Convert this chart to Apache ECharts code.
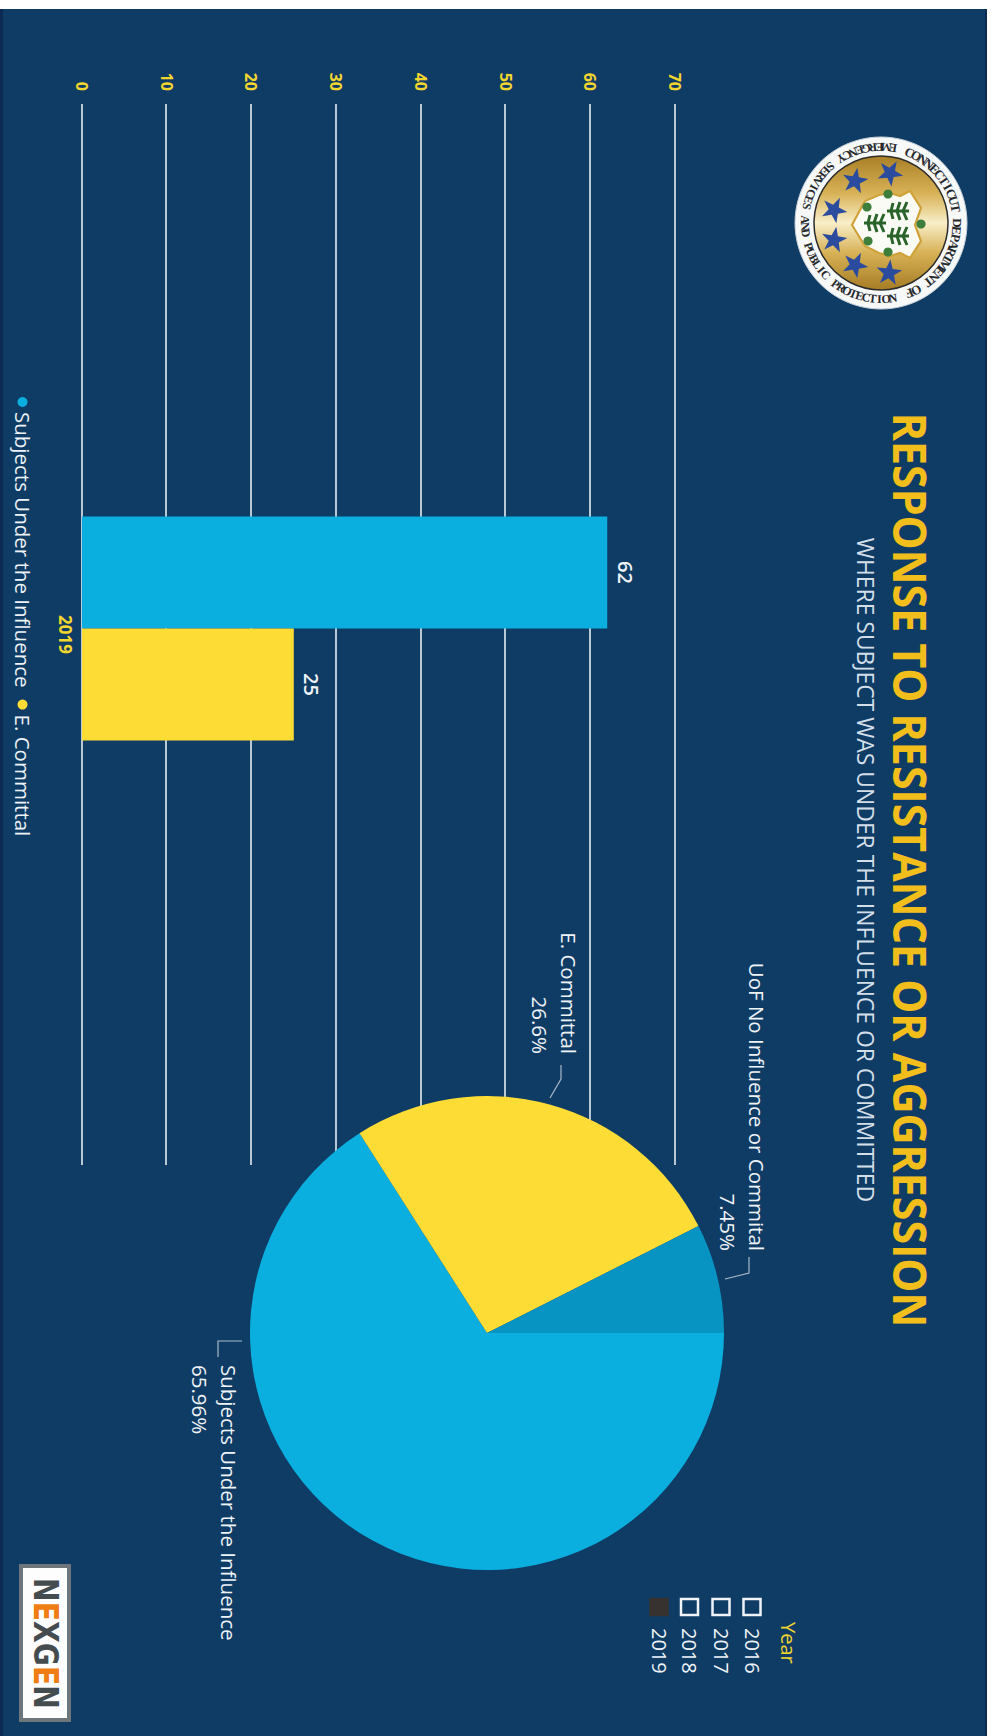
<!DOCTYPE html>
<html>
<head>
<meta charset="utf-8">
<title>Response to Resistance or Aggression</title>
<style>
  html, body { margin: 0; padding: 0; background: #fff; width: 994px; height: 1736px; overflow: hidden; }
  #page { position: relative; width: 994px; height: 1736px; overflow: hidden; background: #fff; }
  #panel { position: absolute; left: 0; top: 9px; width: 985px; height: 1727px; box-sizing: content-box;
           background: #0f3c65; border-right: 2px solid #0c2b52; }
  #edge { position: absolute; left: 0; top: 9px; width: 3px; height: 1727px; background: #0c2b52; }
  /* The report page is laid out sideways: the chart is drawn landscape and turned a quarter clockwise. */
  #chart { position: absolute; left: 994px; top: 0; width: 1736px; height: 994px;
           transform-origin: 0 0; transform: rotate(90deg); }
</style>
<script src="https://cdn.jsdelivr.net/npm/echarts@6/dist/echarts.min.js"></script>
</head>
<body>
<div id="page">
  <div id="panel"></div>
  <div id="edge"></div>
  <div id="chart"></div>
</div>
<script>
// Data
const years = ['2016', '2017', '2018', '2019'];
const selectedYear = '2019';
const barCategories = ['2019'];
const subjectsUnderInfluence = [62];
const emergencyCommittal = [25];
const valueTicksMax = 70;
const valueTickStep = 10;
const pieNames = ['Subjects Under the Influence', 'E. Committal', 'UoF No Influence or Commital'];
const pieCounts = [62, 25, 7];
const titleText = 'RESPONSE TO RESISTANCE OR AGGRESSION';
const subtitleText = 'WHERE SUBJECT WAS UNDER THE INFLUENCE OR COMMITTED';
const sealTop = 'CONNECTICUT DEPARTMENT OF';
const sealBottom = 'EMERGENCY SERVICES AND PUBLIC PROTECTION';

// Palette and type
const BLUE = '#0bafdf', YELLOW = '#fddc36', DEEP_BLUE = '#0894c3';
const GOLD = '#f2be1c', TICK_GOLD = '#f3d62e', WHITE = '#eef3f7';
const FONT = '"Open Sans", "Noto Sans", sans-serif';

const chart = echarts.init(document.getElementById('chart'), null, { renderer: 'svg', width: 1736, height: 994 });

const pieTotal = pieCounts.reduce((a, b) => a + b, 0);

// Leader lines and label anchors for the three pie slices
const pieLabelPlacement = {
  'Subjects Under the Influence': { x: 1365, y: 780, align: 'left',  line: [[1357, 776], [1341, 776], [1341, 752]] },
  'E. Committal':                 { x: 1054, y: 440, align: 'right', line: [[1065, 433], [1079, 433], [1098, 444]] },
  'UoF No Influence or Commital': { x: 1251, y: 252, align: 'right', line: [[1257, 245], [1273, 245], [1279, 269]] }
};

// Department seal: ring lettering set glyph by glyph along two arcs
function arcText(text, radius, fromDeg, toDeg, fontSize, outward) {
  const chars = text.split('');
  return chars.map((c, i) => {
    const deg = fromDeg + (toDeg - fromDeg) * i / (chars.length - 1);
    const t = deg * Math.PI / 180;
    const rot = outward ? -(deg + 90) : (90 - deg);
    return {
      type: 'text', x: radius * Math.cos(t), y: radius * Math.sin(t),
      rotation: rot * Math.PI / 180,
      style: { text: c, fill: '#26282c', align: 'center', verticalAlign: 'middle',
               font: 'bold ' + fontSize + 'px "Liberation Serif", serif' }
    };
  });
}
function starPoints(outer, inner, tilt) {
  const pts = [];
  for (let i = 0; i < 10; i++) {
    const r = i % 2 ? inner : outer;
    const a = (i * 36 - 90 + tilt) * Math.PI / 180;
    pts.push([r * Math.cos(a), r * Math.sin(a)]);
  }
  return pts;
}
function vine(x, y) {
  const seg = (a, b) => ({ type: 'polyline', x, y, shape: { points: [a, b] },
    style: { stroke: '#2a642b', lineWidth: 3, fill: null } });
  return [
    seg([0, -11], [0, 11]),
    seg([0, -5], [-9, -9]), seg([0, -5], [9, -9]),
    seg([0, 1], [-9, -2]), seg([0, 1], [9, -2]),
    seg([0, 7], [-8, 5]), seg([0, 7], [8, 5])
  ];
}
const starSpots = [[-50, -9, 12], [-42, 26, -8], [-13, 47, 8], [17, 47, -8], [42, 26, 8], [50, -8, -12]];
const shieldOutline = [[2, 29], [-13, 21], [-22, 16], [-28, 2], [-30, -9], [-27, -19], [-32, -29], [-15, -40],
                       [2, -34], [18, -40], [35, -29], [30, -19], [33, -9], [30, 2], [23, 16], [15, 21]];
const shieldBeads = [[-29, -7], [-16, 14], [18, 13], [29, -7], [1, -40]];
const sealGroup = {
  type: 'group', x: 223, y: 113, silent: true,
  children: [
    { type: 'circle', shape: { r: 86 }, style: { fill: '#f7f8f8', stroke: '#c8d2da', lineWidth: 1 } },
    { type: 'circle', shape: { r: 67 }, style: {
        fill: new echarts.graphic.LinearGradient(0, 0, 1, 0, [
          { offset: 0, color: '#a97f25' }, { offset: 0.28, color: '#d8b257' },
          { offset: 0.5, color: '#f8eec8' }, { offset: 0.72, color: '#d8b257' }, { offset: 1, color: '#a67c24' }
        ]), stroke: '#2c2c2c', lineWidth: 1.5 } },
    ...starSpots.map(s => ({ type: 'polygon', x: s[0], y: s[1],
      shape: { points: starPoints(13.5, 5.4, s[2]) }, style: { fill: '#2a4b9e' } })),
    { type: 'polygon', shape: { points: shieldOutline }, style: { fill: '#fbfbf6', stroke: '#cfa239', lineWidth: 2.2 } },
    ...shieldBeads.map(b => ({ type: 'circle', shape: { cx: b[0], cy: b[1], r: 4.6 }, style: { fill: '#3d7e3a' } })),
    ...vine(-12, -17), ...vine(13, -17), ...vine(0, 6),
    ...arcText(sealTop, 76, -158, -22, 13, true),
    ...arcText(sealBottom, 76, 189, -9, 12, false)
  ]
};

// Year slicer
const slicerRows = [242, 273, 304.5, 335];
const yearSlicer = {
  type: 'group', silent: true,
  children: [
    { type: 'text', x: 1622, y: 206, style: { text: 'Year', fill: TICK_GOLD, font: '20px ' + FONT, verticalAlign: 'middle' } },
    ...years.flatMap((y, i) => [
      { type: 'rect', shape: { x: 1599, y: slicerRows[i] - 8.5, width: 16, height: 17 },
        style: y === selectedYear ? { fill: '#37322f', stroke: '#37322f', lineWidth: 2.5 }
                                  : { fill: null, stroke: '#f1f4f6', lineWidth: 2.5 } },
      { type: 'text', x: 1628, y: slicerRows[i], style: { text: y, fill: WHITE, font: '20px ' + FONT, verticalAlign: 'middle' } }
    ])
  ]
};

// Vendor badge in the corner
const badge = {
  type: 'group', silent: true,
  children: [
    { type: 'rect', shape: { x: 1566, y: 925, width: 154, height: 48 }, style: { fill: '#fdfdfd', stroke: '#6f767b', lineWidth: 4 } },
    { type: 'text', x: 1643.5, y: 948, scaleX: 0.856, style: {
        text: '{d|N}{o|E}{d|X}{d|G}{o|E}{d|N}', align: 'center', verticalAlign: 'middle',
        rich: {
          d: { fill: '#454c50', font: 'bold 33px "DejaVu Sans", sans-serif' },
          o: { fill: '#ef7d14', font: 'bold 33px "DejaVu Sans", sans-serif' }
        } } }
  ]
};

chart.setOption({
  animation: false,
  backgroundColor: 'transparent',
  textStyle: { fontFamily: FONT },
  legend: {
    data: ['Subjects Under the Influence', 'E. Committal'],
    left: 392, top: 956, selectedMode: false, icon: 'circle',
    itemWidth: 10, itemHeight: 10, itemGap: 12,
    textStyle: { color: WHITE, fontSize: 20.5, fontFamily: FONT }
  },
  grid: { left: 104, top: 319, width: 1061, height: 593, containLabel: false },
  xAxis: {
    type: 'category', data: barCategories,
    axisLine: { show: false }, axisTick: { show: false }, splitLine: { show: false },
    axisLabel: { color: TICK_GOLD, fontSize: 17, fontWeight: 'bold', fontFamily: FONT, margin: 8 }
  },
  yAxis: {
    type: 'value', min: 0, max: valueTicksMax, interval: valueTickStep,
    axisLine: { show: false }, axisTick: { show: false },
    axisLabel: { color: TICK_GOLD, fontSize: 16, fontWeight: 'bold', fontFamily: FONT, margin: 13 },
    splitLine: { lineStyle: { color: '#e3ebf2', width: 1.6 } }
  },
  series: [
    { type: 'bar', name: 'Subjects Under the Influence', data: subjectsUnderInfluence, barWidth: 112, barGap: 0,
      itemStyle: { color: BLUE },
      label: { show: true, position: 'top', distance: 8, color: WHITE, fontSize: 20, fontWeight: 600, fontFamily: FONT } },
    { type: 'bar', name: 'E. Committal', data: emergencyCommittal, barWidth: 112, barGap: 0,
      itemStyle: { color: YELLOW },
      label: { show: true, position: 'top', distance: 8, color: WHITE, fontSize: 20, fontWeight: 600, fontFamily: FONT } },
    // Empty slot that sits the pair of bars slightly ahead of the category centre
    { type: 'bar', name: 'spacer', data: [null], barWidth: 12, barGap: 0, silent: true },
    {
      type: 'pie', center: [1333, 507], radius: [0, 237], startAngle: 90, clockwise: true, silent: true,
      data: pieNames.map((name, i) => ({ name, value: pieCounts[i], itemStyle: { color: [BLUE, YELLOW, DEEP_BLUE][i] } })),
      label: {
        show: true, position: 'outside', color: WHITE, fontSize: 20.5, lineHeight: 29, fontFamily: FONT,
        overflow: 'none', edgeDistance: 0,
        formatter: p => p.name + '\n' + parseFloat((p.value / pieTotal * 100).toFixed(2)) + '%'
      },
      labelLine: { show: true, lineStyle: { color: '#a9bac8', width: 1.2 } },
      labelLayout: params => {
        const place = pieLabelPlacement[pieNames[params.dataIndex]];
        return { x: place.x, y: place.y, align: place.align, verticalAlign: 'middle', labelLinePoints: place.line };
      }
    }
  ],
  graphic: { elements: [
    { type: 'text', x: 870, y: 83, silent: true, scaleX: 0.933,
      style: { text: titleText, fill: GOLD, font: 'bold 46px ' + FONT, align: 'center', verticalAlign: 'middle' } },
    { type: 'text', x: 870, y: 128, silent: true, scaleX: 0.996,
      style: { text: subtitleText, fill: '#d3dee8', font: '23px ' + FONT, align: 'center', verticalAlign: 'middle' } },
    sealGroup, yearSlicer, badge
  ] }
});
</script>
</body>
</html>
